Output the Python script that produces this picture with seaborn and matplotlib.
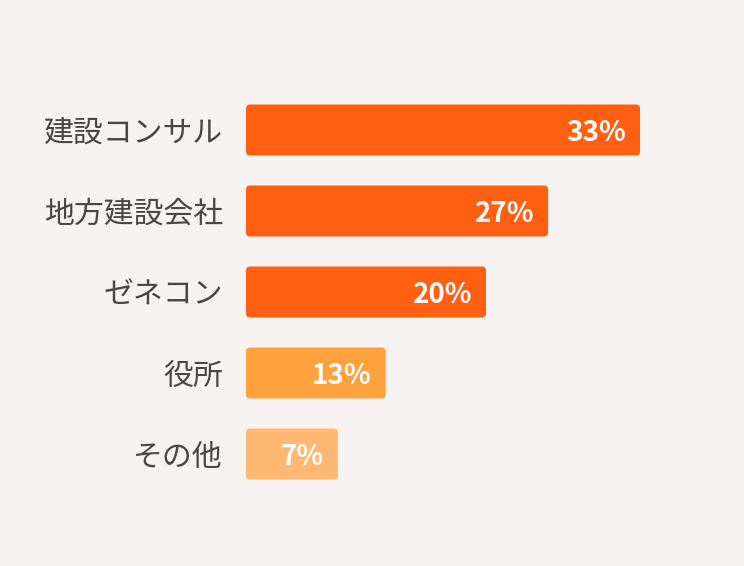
import matplotlib
matplotlib.use("Agg")
import matplotlib.pyplot as plt
import seaborn as sns
from matplotlib.patches import FancyBboxPatch

categories = ["建設コンサル", "地方建設会社", "ゼネコン", "役所", "その他"]
labels = ["33%", "27%", "20%", "13%", "7%"]
# bar lengths as drawn in the picture (not strictly proportional to labels)
lengths = [33.0, 25.3, 20.1, 11.7, 7.7]
colors = ["#FF5F11", "#FF5F11", "#FF5F11", "#FFA13D", "#FFB871"]

bg = "#F7F3F2"
plt.rcParams['font.family'] = ['Noto Sans CJK JP', 'DejaVu Sans']

fig = plt.figure(figsize=(7.44, 5.66), dpi=100, facecolor=bg)
ax = fig.add_axes([246 / 744, 0, 498 / 744, 1])
ax.set_facecolor(bg)

sns.barplot(x=lengths, y=categories, hue=categories, palette=colors,
            orient="h", width=51 / 81, saturation=1, legend=False, ax=ax)

px_x = 1 / 11.94   # x data units per pixel
px_y = 1 / 81      # y data units per pixel
ax.set_xlim(0, 498 * px_x)
ax.set_ylim(5.383, -1.605)

# swap plain bars for rounded ones
for p in list(ax.patches):
    x, y, w, h = p.get_x(), p.get_y(), p.get_width(), p.get_height()
    fc = p.get_facecolor()
    p.remove()
    ax.add_patch(FancyBboxPatch((x, y), w, h,
                                boxstyle=f"round,pad=0,rounding_size={4 * px_x}",
                                mutation_aspect=px_y / px_x,
                                facecolor=fc, edgecolor="none"))

for i, (v, lab) in enumerate(zip(lengths, labels)):
    ax.text(v - 14 * px_x, i, lab, ha="right", va="center_baseline",
            color="white", fontsize=20, fontweight="bold")
    ax.text(-23 * px_x, i, categories[i], ha="right", va="center_baseline",
            color="#474747", fontsize=21.5, clip_on=False)

ax.axis("off")
fig.savefig("out.png", dpi=100, facecolor=bg)
